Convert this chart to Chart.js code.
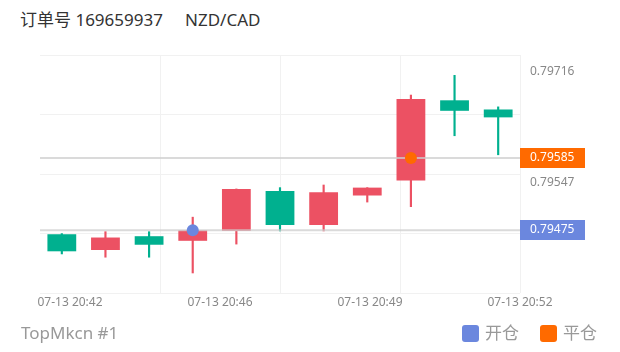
<!DOCTYPE html>
<html>
<head>
<meta charset="utf-8">
<script src="https://cdn.jsdelivr.net/npm/chart.js@4/dist/chart.umd.min.js"></script>
<style>
  html, body { margin: 0; padding: 0; background: #fff; }
  body { width: 620px; height: 352px; position: relative; overflow: hidden;
         font-family: "Noto Sans", "Noto Sans CJK SC", sans-serif; }
  #title { position: absolute; left: 20px; top: 8px; font-size: 17px; line-height: 24px; color: #333; white-space: pre; }
  #foot { position: absolute; left: 21px; top: 321px; font-size: 17px; line-height: 24px; color: #999; }
  #legend { position: absolute; left: 462px; top: 321px; display: flex; align-items: center;
            font-size: 17px; line-height: 24px; color: #999; }
  #legend .box { width: 17px; height: 17px; border-radius: 3px; margin-right: 6px; }
  #legend .item { display: flex; align-items: center; margin-right: 21px; }
  canvas { position: absolute; left: 0; top: 0; }
</style>
</head>
<body>
<div id="title">订单号 169659937     NZD/CAD</div>
<canvas id="KChart" width="620" height="352"></canvas>
<div id="foot">TopMkcn #1</div>
<div id="legend">
  <div class="item"><div class="box" style="background:#6b87de"></div>开仓</div>
  <div class="item"><div class="box" style="background:#ff6a00"></div>平仓</div>
</div>
<script>
// one-minute candles
const times = ["20:42", "20:43", "20:44", "20:45", "20:46", "20:47", "20:48", "20:49", "20:50", "20:51", "20:52"];
const opens = [0.79469, 0.79445, 0.79466, 0.79459, 0.79474, 0.79535, 0.79483, 0.79528, 0.79551, 0.79673, 0.79659];
const closes = [0.79443, 0.79464, 0.79453, 0.79475, 0.79538, 0.79483, 0.79533, 0.79540, 0.79675, 0.79657, 0.79647];
const highs = [0.79470, 0.79473, 0.79473, 0.79495, 0.79538, 0.79540, 0.79544, 0.79540, 0.79681, 0.79711, 0.79663];
const lows = [0.79439, 0.79434, 0.79434, 0.79410, 0.79454, 0.79474, 0.79474, 0.79518, 0.79511, 0.79619, 0.79590];

// open / close of the order
const markIndex = [3, 8];
const markPrice = [0.79475, 0.79585];

const xTickLabels = ["07-13 20:42", "07-13 20:46", "07-13 20:49", "07-13 20:52"];
const yTickValues = [0.79716, 0.79547];

const yMin = 0.793795;
const yMax = 0.79742;

const UP = "#ec5163";
const DOWN = "#00b08f";
const OPEN_C = "#6b87de";
const CLOSE_C = "#ff6a00";
const markColors = [OPEN_C, CLOSE_C];

const candleColors = opens.map((o, i) => (closes[i] >= o ? UP : DOWN));

const lineDs = (k) => ({
  type: "line",
  xAxisID: "xg",
  data: [{ x: 0, y: markPrice[k] }, { x: 4, y: markPrice[k] }],
  borderColor: "rgba(205,205,205,0.75)",
  borderWidth: 2,
  pointRadius: 0,
});

const markerDs = (k) => ({
  type: "line",
  showLine: false,
  data: times.map((_, i) => (i === markIndex[k] ? markPrice[k] : null)),
  pointRadius: 6,
  pointHoverRadius: 6,
  pointBorderWidth: 0,
  pointBackgroundColor: markColors[k],
  borderColor: markColors[k],
});

const tagPlugin = {
  id: "priceTags",
  afterDraw(chart) {
    const { ctx, chartArea, scales } = chart;
    ctx.save();
    markPrice.forEach((p, k) => {
      const y = scales.y.getPixelForValue(p);
      ctx.fillStyle = markColors[k];
      ctx.fillRect(chartArea.right, Math.round(y) - 10, 65, 20);
      ctx.fillStyle = "#fff";
      ctx.font = '12px "Noto Sans", sans-serif';
      ctx.textAlign = "left";
      ctx.textBaseline = "middle";
      ctx.fillText(p.toFixed(5), chartArea.right + 10, Math.round(y));
    });
    ctx.restore();
  },
};

Chart.defaults.font.family = '"Noto Sans", "Noto Sans CJK SC", sans-serif';

new Chart(document.getElementById("KChart").getContext("2d"), {
  type: "bar",
  data: {
    labels: times,
    datasets: [
      markerDs(0),
      markerDs(1),
      lineDs(0),
      lineDs(1),
      {
        data: opens.map((o, i) => [o, closes[i]]),
        backgroundColor: candleColors,
        borderWidth: 0,
        grouped: false,
        barPercentage: 0.66,
        categoryPercentage: 1,
      },
      {
        data: lows.map((l, i) => [l, highs[i]]),
        backgroundColor: candleColors,
        borderWidth: 0,
        grouped: false,
        barThickness: 1.5,
      },
    ],
  },
  options: {
    responsive: false,
    animation: false,
    layout: { padding: { left: 40, top: 55, right: 0, bottom: 34 } },
    plugins: { legend: { display: false }, tooltip: { enabled: false } },
    scales: {
      x: { display: false, offset: true },
      xg: {
        type: "linear",
        position: "bottom",
        offset: false,
        min: 0,
        max: 4,
        ticks: { display: false, stepSize: 1 },
        grid: {
          offset: false,
          drawTicks: false,
          color: (c) => (c.tick && c.tick.value === 0 ? "rgba(0,0,0,0)" : "#f1f1f1"),
        },
        border: { display: false },
        afterFit: (s) => { s.height = 0; },
      },
      xl: {
        type: "linear",
        position: "bottom",
        offset: false,
        min: 0,
        max: 4,
        afterBuildTicks: (s) => { s.ticks = xTickLabels.map((_, k) => ({ value: 0.25 + 1.25 * k })); },
        ticks: {
          autoSkip: false,
          maxRotation: 0,
          padding: 2,
          color: "#888",
          font: { size: 12 },
          callback: (v, i) => xTickLabels[i],
        },
        grid: { display: false, drawTicks: false, offset: false },
        border: { display: false },
        afterFit: (s) => { s.height = 25; },
      },
      y: {
        position: "right",
        min: yMin,
        max: yMax,
        afterBuildTicks: (s) => { s.ticks = yTickValues.map((v) => ({ value: v })); },
        ticks: { color: "#888", font: { size: 12 }, padding: 10, callback: (v) => v.toFixed(5) },
        grid: { display: false, drawTicks: false },
        border: { display: false },
        afterFit: (s) => { s.width = 100; },
      },
      yg: {
        position: "left",
        min: yMin,
        max: yMax,
        afterBuildTicks: (s) => {
          s.ticks = [0, 1, 2, 3, 4].map((k) => ({ value: yMin + ((yMax - yMin) * k) / 4 }));
        },
        ticks: { display: false },
        grid: { color: "#f1f1f1", drawTicks: false },
        border: { display: false },
        afterFit: (s) => { s.width = 0; },
      },
    },
  },
  plugins: [tagPlugin],
});
</script>
</body>
</html>
